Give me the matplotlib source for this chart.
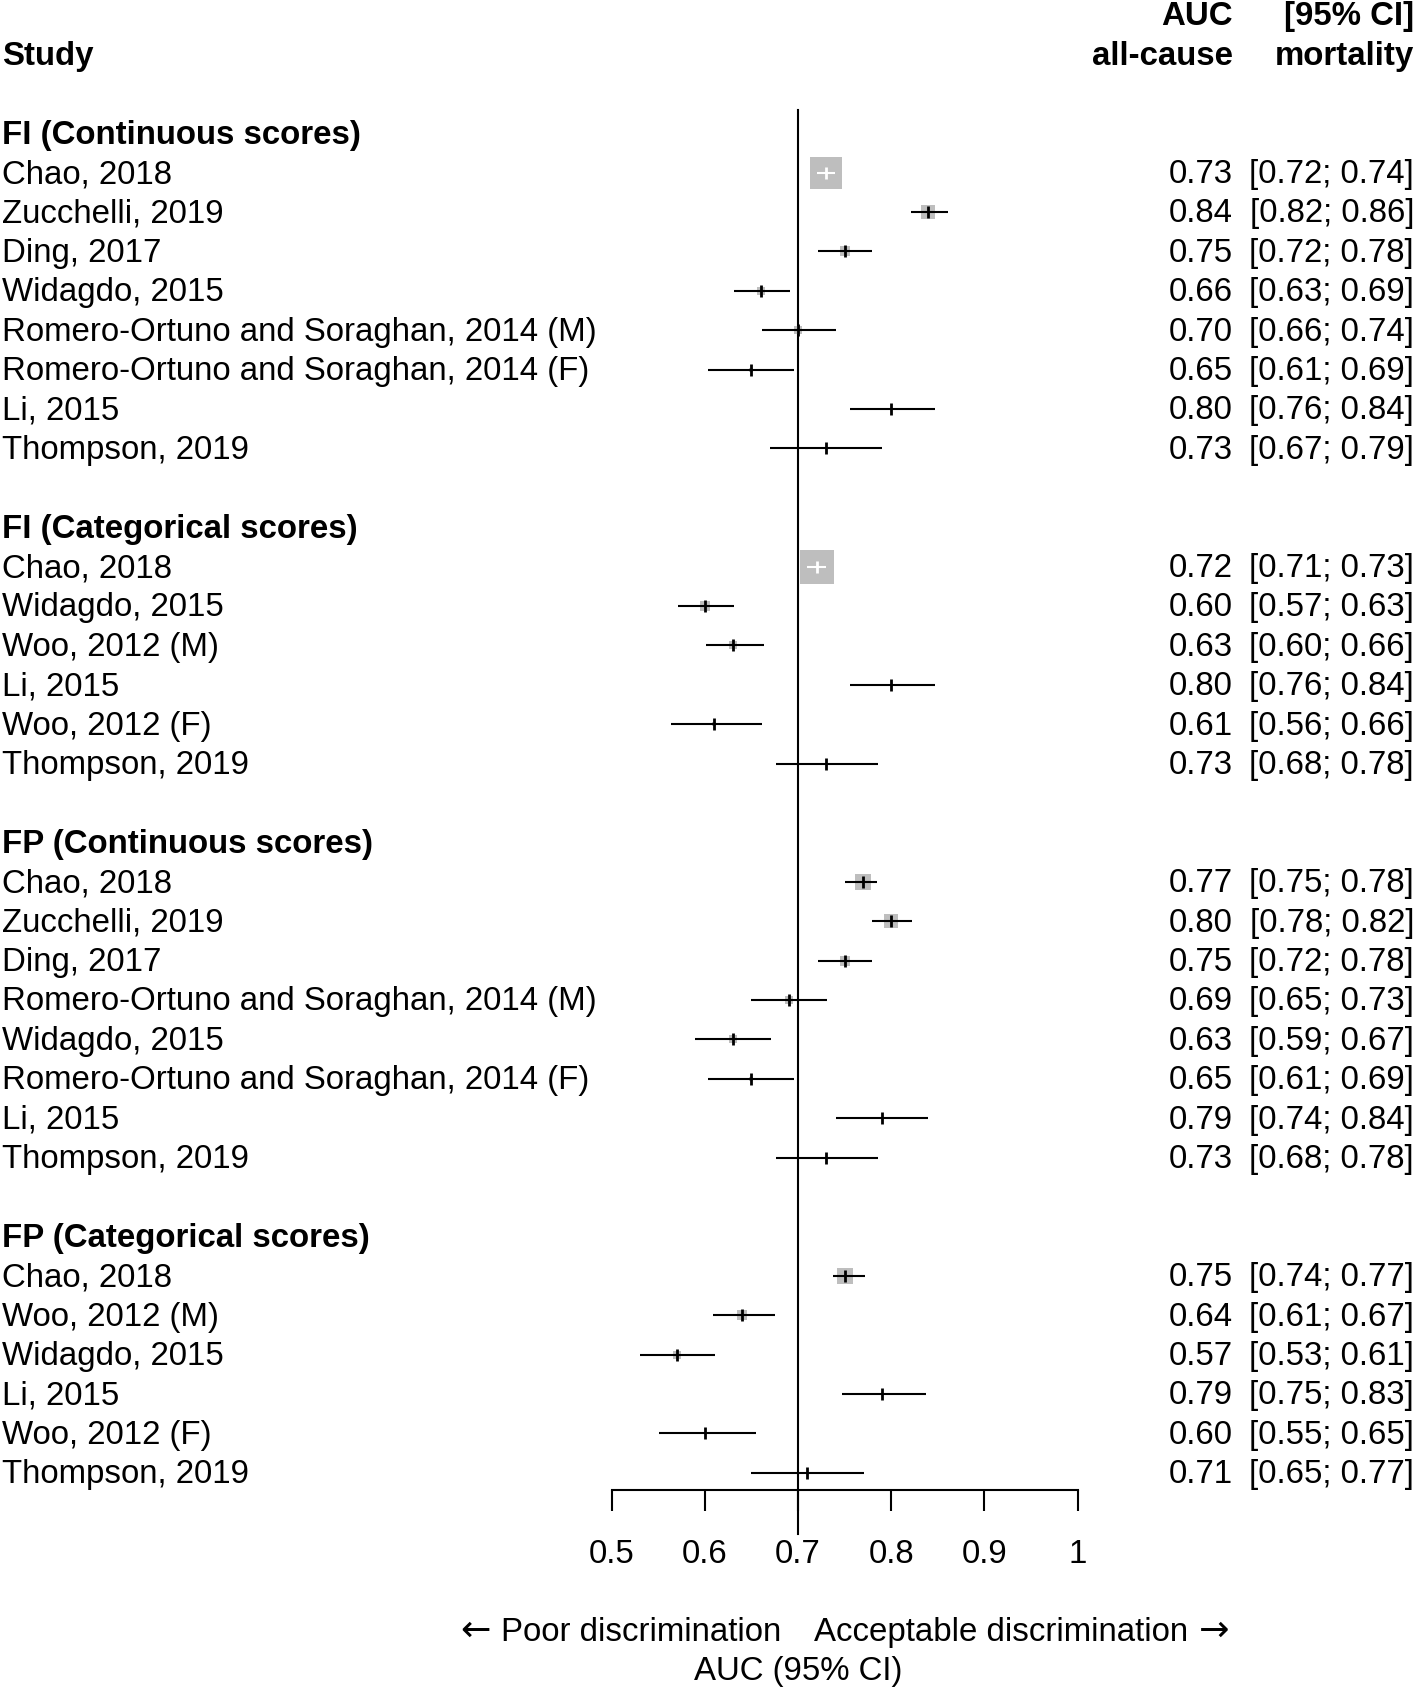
import matplotlib
matplotlib.use("Agg")
import matplotlib.pyplot as plt

plt.rcParams['font.family'] = ['Liberation Sans', 'DejaVu Sans']

# ---- data ----
groups = ["FI (Continuous scores)", "FI (Categorical scores)",
          "FP (Continuous scores)", "FP (Categorical scores)"]

studies = [
    ["Chao, 2018", "Zucchelli, 2019", "Ding, 2017", "Widagdo, 2015",
     "Romero-Ortuno and Soraghan, 2014 (M)",
     "Romero-Ortuno and Soraghan, 2014 (F)", "Li, 2015", "Thompson, 2019"],
    ["Chao, 2018", "Widagdo, 2015", "Woo, 2012 (M)", "Li, 2015",
     "Woo, 2012 (F)", "Thompson, 2019"],
    ["Chao, 2018", "Zucchelli, 2019", "Ding, 2017",
     "Romero-Ortuno and Soraghan, 2014 (M)", "Widagdo, 2015",
     "Romero-Ortuno and Soraghan, 2014 (F)", "Li, 2015", "Thompson, 2019"],
    ["Chao, 2018", "Woo, 2012 (M)", "Widagdo, 2015", "Li, 2015",
     "Woo, 2012 (F)", "Thompson, 2019"],
]
auc = [
    [0.73, 0.84, 0.75, 0.66, 0.70, 0.65, 0.80, 0.73],
    [0.72, 0.60, 0.63, 0.80, 0.61, 0.73],
    [0.77, 0.80, 0.75, 0.69, 0.63, 0.65, 0.79, 0.73],
    [0.75, 0.64, 0.57, 0.79, 0.60, 0.71],
]
# CI limits as drawn (unrounded)
lower = [
    [0.720, 0.821, 0.722, 0.631, 0.661, 0.604, 0.756, 0.670],
    [0.710, 0.571, 0.601, 0.756, 0.564, 0.676],
    [0.750, 0.780, 0.722, 0.650, 0.590, 0.604, 0.741, 0.676],
    [0.738, 0.609, 0.531, 0.747, 0.551, 0.650],
]
upper = [
    [0.740, 0.861, 0.780, 0.691, 0.741, 0.696, 0.847, 0.790],
    [0.730, 0.631, 0.664, 0.847, 0.661, 0.786],
    [0.785, 0.822, 0.780, 0.731, 0.671, 0.696, 0.840, 0.786],
    [0.772, 0.675, 0.611, 0.837, 0.655, 0.771],
]
# CI text as printed in the right column
ci_text = [
    ["[0.72; 0.74]", "[0.82; 0.86]", "[0.72; 0.78]", "[0.63; 0.69]",
     "[0.66; 0.74]", "[0.61; 0.69]", "[0.76; 0.84]", "[0.67; 0.79]"],
    ["[0.71; 0.73]", "[0.57; 0.63]", "[0.60; 0.66]", "[0.76; 0.84]",
     "[0.56; 0.66]", "[0.68; 0.78]"],
    ["[0.75; 0.78]", "[0.78; 0.82]", "[0.72; 0.78]", "[0.65; 0.73]",
     "[0.59; 0.67]", "[0.61; 0.69]", "[0.74; 0.84]", "[0.68; 0.78]"],
    ["[0.74; 0.77]", "[0.61; 0.67]", "[0.53; 0.61]", "[0.75; 0.83]",
     "[0.55; 0.65]", "[0.65; 0.77]"],
]
# relative study weights (estimated from square areas)
weight = [
    [102, 17, 10, 6.4, 4.9, 0.9, 0.4, 0.4],
    [109, 10, 6.4, 0.4, 0.9, 0.4],
    [27, 20, 8.1, 6.4, 4.9, 0.9, 0.4, 0.4],
    [23, 8.1, 4.9, 0.4, 0.4, 0.4],
]
xticks = [0.5, 0.6, 0.7, 0.8, 0.9, 1.0]
xticklabels = ["0.5", "0.6", "0.7", "0.8", "0.9", "1"]
ref_value = 0.7

# ---- layout ----
W, H, DPI = 1416, 1689, 100
px_x0, px_x1 = 611.5, 1077.5          # pixel position of 0.5 and 1.0
px_row0, px_row = 15.0, 39.4          # first row centre, row height
per_px = 0.5 / (px_x1 - px_x0)
xlim = (0.5 - px_x0 * per_px, 1.0 + (W - px_x1) * per_px)
ylim = ((H - px_row0) / px_row, -px_row0 / px_row)
fs = 23.8
dy = 0.05                              # small text nudge
gray = "#BEBEBE"
col_auc = 1233 / W
col_ci = 1414 / W
col_study = 2 / W

fig = plt.figure(figsize=(W / DPI, H / DPI), dpi=DPI)
ax = fig.add_axes([0, 0, 1, 1])
ax.set_xlim(*xlim)
ax.set_ylim(*ylim)
ty = ax.get_yaxis_transform()


def label(x, y, s, ha="left", bold=False):
    return ax.text(x, y + dy, s, transform=ty, ha=ha, va="center",
                   fontsize=fs, fontweight="bold" if bold else "normal")


# header
label(col_study, 1, "Study", bold=True)
label(col_auc, 0, "AUC", ha="right", bold=True)
label(col_auc, 1, "all-cause", ha="right", bold=True)
label(col_ci, 0, "[95% CI]", ha="right", bold=True)
label(col_ci, 1, "mortality", ha="right", bold=True)

row = 3
last_row = row
for g, name in enumerate(groups):
    label(col_study, row, name, bold=True)
    row += 1
    for i, st in enumerate(studies[g]):
        est, lo, hi = auc[g][i], lower[g][i], upper[g][i]
        side_px = max(3.2 * weight[g][i] ** 0.5, 2.0)
        ax.scatter([est], [row], marker="s", s=(side_px * 0.72) ** 2,
                   color=gray, linewidths=0, zorder=2)
        inside = (hi - lo) / per_px < side_px
        lc = "white" if inside else "black"
        ax.plot([lo, hi], [row, row], color=lc, lw=1.5,
                solid_capstyle="butt", zorder=3)
        ax.scatter([est], [row], marker="|", s=(12 * 0.72) ** 2,
                   color=lc, linewidths=2.0, zorder=4)
        label(col_study, row, st)
        label(col_auc, row, f"{est:.2f}", ha="right")
        label(col_ci, row, ci_text[g][i], ha="right")
        last_row = row
        row += 1
    row += 1

axis_row = last_row + 0.44
ax.plot([ref_value, ref_value], [2.42, axis_row + 1.11], color="black",
        lw=1.5, zorder=1)

# x axis
for side in ["top", "left", "right"]:
    ax.spines[side].set_visible(False)
ax.spines["bottom"].set_position(("data", axis_row))
ax.spines["bottom"].set_bounds(0.5, 1.0)
ax.spines["bottom"].set_linewidth(1.5)
ax.set_xticks(xticks)
ax.set_xticklabels(xticklabels, fontsize=fs)
ax.tick_params(axis="x", direction="out", length=15, width=1.5, pad=20)
ax.set_yticks([])

# direction labels with arrows
gap = 16.5 * per_px
y_dir = last_row + 4.05
renderer = fig.canvas.get_renderer()
inv = ax.transData.inverted()
t_poor = ax.text(ref_value - gap, y_dir, "Poor discrimination",
                 ha="right", va="center", fontsize=fs)
t_acc = ax.text(ref_value + gap, y_dir, "Acceptable discrimination",
                ha="left", va="center", fontsize=fs)
bb_p = t_poor.get_window_extent(renderer)
bb_a = t_acc.get_window_extent(renderer)
x_la = inv.transform((bb_p.x0 - 10, 0))[0]
x_ra = inv.transform((bb_a.x1 + 10, 0))[0]
ax.text(x_la, y_dir - 0.03, "\u2190", ha="right", va="center",
        fontsize=fs * 1.1, family="DejaVu Sans")
ax.text(x_ra, y_dir - 0.03, "\u2192", ha="left", va="center",
        fontsize=fs * 1.1, family="DejaVu Sans")
ax.text(ref_value, last_row + 5.05, "AUC (95% CI)", ha="center",
        va="center", fontsize=fs)

fig.savefig("out.png", dpi=DPI)
